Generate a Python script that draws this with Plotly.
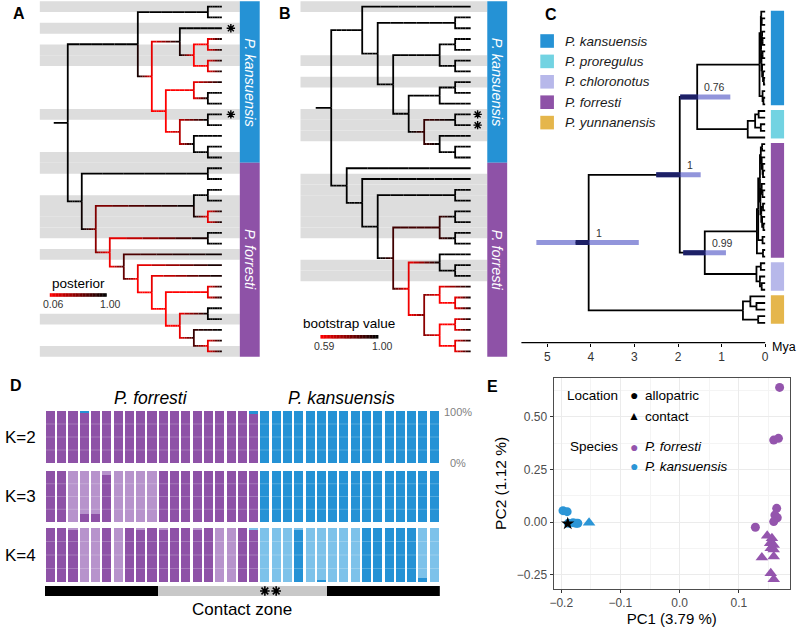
import plotly.graph_objects as go

W, H = 800, 634
FONT = "Liberation Sans, Arial, Helvetica, sans-serif"
T = None  # a tip in the cladograms of panels A and B

# ======================= DATA =======================
# ---- Panel A: Bayesian tree, node = [posterior, child, child], tips top->bottom
A_k_sub1 = [1.00, T, [0.06, [0.06, T, T], [0.06, T, T]]]
A_k_sub2 = [0.06, [0.10, T, [1.00, T, T]], [0.30, [1.00, T, T], [1.00, T, [1.00, T, T]]]]
A_kansuensis = [1.00, [1.00, T, T], [0.06, A_k_sub1, A_k_sub2]]
A_f_deep = [0.06, [0.06, T, T], [0.10, [1.00, T, T], [0.80, T, [0.06, T, T]]]]
A_f_ladder = [0.70, T, [0.06, T, [0.06, T, A_f_deep]]]
A_forresti = [1.00, [1.00, T, T],
              [0.50, [1.00, [1.00, T, T], [0.06, T, T]], [0.06, [1.00, T, T], A_f_ladder]]]
tree_A = [1.00, A_kansuensis, A_forresti]
bands_A = [0, 2, 4, 5, 10, 14, 15, 18, 19, 20, 21, 23, 29, 32]
stars_A = [2, 10]
posterior_range = [0.06, 1.00]

# ---- Panel B: ML tree, node = [bootstrap, child, child]
B_k_sub = [1.00, [1.00, [1.00, T, T], T], [0.90, [1.00, T, T], [1.00, T, [1.00, T, T]]]]
B_kansuensis = [1.00, T, [1.00, [1.00, T, T], [1.00, [1.00, [1.00, T, T], [1.00, T, T]], B_k_sub]]]
B_f_sub = [0.59, [1.00, T, [1.00, T, T]],
           [0.80, [0.59, T, [0.59, T, T]], [0.59, [0.59, T, T], [0.59, T, T]]]]
B_forresti = [1.00, T, [1.00, T, [1.00, [1.00, T, T],
                                    [0.90, [0.90, [1.00, T, T], [1.00, T, T]], B_f_sub]]]]
tree_B = [1.00, B_kansuensis, B_forresti]
bands_B = [0, 5, 7, 10, 11, 12, 16, 17, 18, 19, 20, 21, 24, 25]
stars_B = [10, 11]
bootstrap_range = [0.59, 1.00]

n_kans_tree = 15
n_forr_tree = 18

# ---- Panel C: dated species tree, node = [age (Mya), child, child], "t" = tip
C_kans = [0.13, [0.10, [0.09, "t", [0.08, "t", "t"]],
                 [0.095, [0.07, "t", [0.06, "t", "t"]],
                  [0.085, [0.06, "t", "t"], [0.07, "t", [0.05, "t", [0.03, "t", "t"]]]]]],
          [0.06, "t", [0.04, "t", "t"]]]
C_pror = [0.40, [0.23, [0.15, "t", "t"], [0.10, "t", "t"]], "t"]
C_f_a1 = [0.10, [0.07, "t", "t"], [0.08, "t", [0.06, "t", [0.05, "t", "t"]]]]
C_f_a2 = [0.11, [0.08, "t", [0.06, "t", "t"]], [0.09, [0.05, "t", "t"], [0.07, "t", [0.04, "t", "t"]]]]
C_forr = [0.19, [0.16, [0.12, C_f_a1, C_f_a2], [0.06, "t", "t"]], [0.05, "t", "t"]]
C_chlo = [0.20, [0.10, "t", "t"], [0.12, "t", [0.08, "t", "t"]]]
C_yunn = [0.51, [0.34, "t", [0.20, "t", "t"]], [0.16, "t", "t"]]
tree_C = [4.05, [1.96, [1.56, C_kans, C_pror], [1.386, C_forr, C_chlo]], C_yunn]
root_edge = 0.30
hpd_node_age = [4.05, 1.96, 1.56, 1.386]
hpd_low = [2.90, 1.48, 0.80, 0.90]
hpd_high = [5.25, 2.50, 1.95, 1.88]
hpd_posterior = ["1", "1", "0.76", "0.99"]
mya_ticks = [5, 4, 3, 2, 1, 0]
legend_species = ["P. kansuensis", "P. proregulus", "P. chloronotus", "P. forresti", "P. yunnanensis"]
legend_colors = ["#2592D5", "#72D3E2", "#B7B8EA", "#8E52A7", "#E5B64B"]
clades_top_to_bottom = [C_kans, C_pror, C_forr, C_chlo, C_yunn]
clade_colors = ["#2592D5", "#72D3E2", "#8E52A7", "#B7B8EA", "#E5B64B"]

# ---- Panel D: admixture proportions for 35 individuals (19 P. forresti, 16 P. kansuensis)
K2_purple = [1.00, 1.00, 1.00, 0.97, 1.00, 1.00, 1.00, 1.00, 1.00, 1.00, 1.00, 1.00, 1.00, 1.00, 1.00, 1.00,
             1.00, 1.00, 0.95, 0.00, 0.00, 0.00, 0.00, 0.00, 0.00, 0.00, 0.00, 0.00, 0.00, 0.00, 0.00, 0.00,
             0.00, 0.00, 0.00]
K2_blue = [0.00, 0.00, 0.00, 0.03, 0.00, 0.00, 0.00, 0.00, 0.00, 0.00, 0.00, 0.00, 0.00, 0.00, 0.00, 0.00,
           0.00, 0.00, 0.05, 1.00, 1.00, 1.00, 1.00, 1.00, 1.00, 1.00, 1.00, 1.00, 1.00, 1.00, 1.00, 1.00,
           1.00, 1.00, 1.00]
K3_dpurple = [1.00, 1.00, 0.00, 0.16, 0.16, 0.92, 0.00, 0.00, 0.00, 0.00, 1.00, 1.00, 1.00, 1.00, 1.00, 1.00,
              1.00, 1.00, 1.00, 0.00, 0.00, 0.00, 0.00, 0.00, 0.00, 0.00, 0.00, 0.00, 0.00, 0.00, 0.00, 0.00,
              0.00, 0.00, 0.00]
K3_lpurple = [0.00, 0.00, 1.00, 0.84, 0.84, 0.08, 1.00, 1.00, 1.00, 1.00, 0.00, 0.00, 0.00, 0.00, 0.00, 0.00,
              0.00, 0.00, 0.00, 0.00, 0.00, 0.00, 0.00, 0.00, 0.00, 0.00, 0.00, 0.00, 0.00, 0.00, 0.00, 0.00,
              0.00, 0.00, 0.00]
K3_blue = [0.00, 0.00, 0.00, 0.00, 0.00, 0.00, 0.00, 0.00, 0.00, 0.00, 0.00, 0.00, 0.00, 0.00, 0.00, 0.00,
           0.00, 0.00, 0.00, 1.00, 1.00, 1.00, 1.00, 1.00, 1.00, 1.00, 1.00, 1.00, 1.00, 1.00, 1.00, 1.00,
           1.00, 1.00, 1.00]
K4_dpurple = [1.00, 1.00, 0.96, 0.00, 0.00, 1.00, 0.00, 1.00, 0.96, 1.00, 0.97, 1.00, 1.00, 0.96, 1.00, 0.00,
              0.00, 1.00, 0.96, 0.00, 0.00, 0.00, 0.00, 0.00, 0.00, 0.00, 0.00, 0.00, 0.00, 0.00, 0.00, 0.00,
              0.00, 0.00, 0.00]
K4_lpurple = [0.00, 0.00, 0.04, 1.00, 1.00, 0.00, 1.00, 0.00, 0.04, 0.00, 0.03, 0.00, 0.00, 0.04, 0.00, 1.00,
              1.00, 0.00, 0.00, 0.00, 0.00, 0.00, 0.00, 0.00, 0.00, 0.00, 0.00, 0.00, 0.00, 0.00, 0.00, 0.00,
              0.00, 0.00, 0.00]
K4_dblue = [0.00, 0.00, 0.00, 0.00, 0.00, 0.00, 0.00, 0.00, 0.00, 0.00, 0.00, 0.00, 0.00, 0.00, 0.00, 0.00,
            0.00, 0.00, 0.00, 0.00, 0.00, 0.00, 0.97, 0.00, 0.03, 0.00, 0.00, 0.00, 1.00, 1.00, 1.00, 1.00,
            1.00, 0.07, 0.00]
K4_lblue = [0.00, 0.00, 0.00, 0.00, 0.00, 0.00, 0.00, 0.00, 0.00, 0.00, 0.00, 0.00, 0.00, 0.00, 0.00, 0.00,
            0.00, 0.00, 0.04, 1.00, 1.00, 1.00, 0.03, 1.00, 0.97, 1.00, 1.00, 1.00, 0.00, 0.00, 0.00, 0.00,
            0.00, 0.93, 1.00]
contact_zone = [0, 0, 0, 0, 0, 0, 0, 0, 0, 0, 1, 1, 1, 1, 1, 1, 1, 1, 1, 1, 1, 1, 1, 1, 1,
                0, 0, 0, 0, 0, 0, 0, 0, 0, 0]
starred_individuals = [19, 20]
k_labels = ["K=2", "K=3", "K=4"]

# ---- Panel E: PCA
pc1_forr_allo = [0.169, 0.159, 0.167, 0.164, 0.161, 0.165, 0.159, 0.128]
pc2_forr_allo = [0.639, 0.389, 0.397, 0.065, 0.033, 0.020, 0.002, -0.025]
pc1_forr_cont = [0.148, 0.156, 0.153, 0.159, 0.154, 0.159, 0.139, 0.159, 0.154, 0.159]
pc2_forr_cont = [-0.065, -0.077, -0.101, -0.109, -0.125, -0.130, -0.169, -0.164, -0.243, -0.272]
pc1_kans_allo = [-0.197, -0.190, -0.188, -0.180, -0.175, -0.172]
pc2_kans_allo = [0.054, 0.049, -0.006, -0.003, -0.006, -0.006]
pc1_kans_cont = [-0.153]
pc2_kans_cont = [-0.003]
pc1_star = [-0.189]
pc2_star = [-0.008]

# ======================= STYLE =======================
PURPLE = "#8E52A7"
LPURPLE = "#B793CC"
BLUE = "#2592D5"
LBLUE = "#7DC2EA"
GREY_BAND = "#DDDDDD"

fig = go.Figure()
shapes, anns = [], []


def fx(p):
    return p / W


def fy(p):
    return 1 - p / H


def dom_x(a, b):
    return [a / W, b / W]


def dom_y(top, bottom):
    return [1 - bottom / H, 1 - top / H]


def text(s, x, y, size, color="#000000", xa="center", ya="middle", xref="paper", yref="paper",
         angle=0, yshift=0):
    anns.append(dict(text=s, x=fx(x) if xref == "paper" else x, y=fy(y) if yref == "paper" else y,
                     xref=xref, yref=yref, xanchor=xa, yanchor=ya, showarrow=False, textangle=angle,
                     yshift=yshift, font=dict(size=size, color=color, family=FONT)))


def rect(x0, x1, y0, y1, color, xref="paper", yref="paper", layer="below"):
    shapes.append(dict(type="rect", xref=xref, yref=yref,
                       x0=fx(x0) if xref == "paper" else x0, x1=fx(x1) if xref == "paper" else x1,
                       y0=fy(y0) if yref == "paper" else y0, y1=fy(y1) if yref == "paper" else y1,
                       fillcolor=color, line=dict(width=0), layer=layer))


def grad(t):
    return "rgb(%d,0,0)" % int(round(255 * (1 - t)))


def draw_cladogram(tree, xa, ya, vmin, vmax):
    tips = []

    def build(node):
        if node is None:
            d = dict(y=float(len(tips)), h=0, v=vmax, kids=[])
            tips.append(d)
            return d
        kids = [build(c) for c in node[1:]]
        return dict(y=sum(k["y"] for k in kids) / len(kids), h=1 + max(k["h"] for k in kids),
                    v=node[0], kids=kids)

    root = build(tree)
    top = root["h"] + 1

    def setx(n):
        n["x"] = top - n["h"]
        for k in n["kids"]:
            setx(k)

    setx(root)
    groups = {}

    def put(pts, v):
        t = max(0.0, min(1.0, (v - vmin) / (vmax - vmin)))
        q = round(t * 20) / 20
        xs, ys = groups.setdefault(q, ([], []))
        for x, y in pts:
            xs.append(x)
            ys.append(y)
        xs.append(None)
        ys.append(None)

    NS = 6

    def walk(n):
        for k in n["kids"]:
            dx = (k["x"] - n["x"]) / NS
            dv = k["v"] - n["v"]
            put([(n["x"], n["y"]), (n["x"], k["y"]), (n["x"] + dx, k["y"])], n["v"] + dv * 0.5 / NS)
            for i in range(1, NS):
                put([(n["x"] + dx * i, k["y"]), (n["x"] + dx * (i + 1), k["y"])], n["v"] + dv * (i + 0.5) / NS)
            walk(k)

    walk(root)
    put([(root["x"] - 1, root["y"]), (root["x"], root["y"])], root["v"])
    for q in sorted(groups):
        xs, ys = groups[q]
        fig.add_trace(go.Scatter(x=xs, y=ys, mode="lines", line=dict(color=grad(q), width=1.8),
                                 xaxis=xa, yaxis=ya, hoverinfo="skip", showlegend=False))
    return len(tips)


def tree_panel(tree, xa, ya, yref, vmin, vmax, band_px, bar_px, bands):
    for k in bands:
        rect(band_px[0], band_px[1], k - 0.5, k + 0.5, GREY_BAND, yref=yref)
    draw_cladogram(tree, xa, ya, vmin, vmax)
    nk, nf = n_kans_tree, n_forr_tree
    rect(bar_px[0], bar_px[1], -0.5, nk - 0.5, BLUE, yref=yref, layer="above")
    rect(bar_px[0], bar_px[1], nk - 0.5, nk + nf - 0.5, PURPLE, yref=yref, layer="above")
    xc = (bar_px[0] + bar_px[1]) / 2
    text("<i>P. kansuensis</i>", xc, (nk - 1) / 2, 14.5, "white", yref=yref, angle=90)
    text("<i>P. forresti</i>", xc, nk + (nf - 1) / 2, 14.5, "white", yref=yref, angle=90)


def grad_legend(title, x0, x1, ybar, lo, hi, title_y, lab_y):
    n = 40
    for i in range(n):
        a = x0 + (x1 - x0) * i / n
        b = x0 + (x1 - x0) * (i + 1) / n + 0.3
        rect(a, b, ybar - 1.8, ybar + 1.8, grad(i / (n - 1)), layer="above")
    text(title, (x0 + x1) / 2, title_y, 13.5)
    text("%.2f" % lo, x0 + 4, lab_y, 10.5, "#333333")
    text("%.2f" % hi, x1 + 4, lab_y, 10.5, "#333333")


def star_markers(tips_idx, x_level, xa, ya):
    fig.add_trace(go.Scatter(x=[x_level for _ in tips_idx], y=tips_idx, mode="markers",
                             marker=dict(symbol="asterisk-open", size=7, color="black",
                                         line=dict(width=1.4, color="black")),
                             xaxis=xa, yaxis=ya, cliponaxis=False, hoverinfo="skip", showlegend=False))


# ---------------- Panel A ----------------
tree_panel(tree_A, "x", "y", "y", posterior_range[0], posterior_range[1], (36, 237), (237, 257), bands_A)
star_markers(stars_A, (228 - 50) / 14.08, "x", "y")
grad_legend("posterior", 46, 103, 295, posterior_range[0], posterior_range[1], 283, 304)

# ---------------- Panel B ----------------
tree_panel(tree_B, "x2", "y2", "y2", bootstrap_range[0], bootstrap_range[1], (298, 485.7), (485.7, 505.7),
           bands_B)
star_markers(stars_B, (476 - 313.3) / 15.57, "x2", "y2")
grad_legend("bootstrap value", 318, 376, 336.8, bootstrap_range[0], bootstrap_range[1], 323, 345.5)

# ---------------- Panel C ----------------
def ntips(node):
    return 1 if node == "t" else sum(ntips(c) for c in node[1:])


tipsC = []
node_y, node_parent = {}, {}


def buildC(node, parent_age):
    if node == "t":
        d = dict(age=0.0, y=float(len(tipsC)), kids=[])
        tipsC.append(d)
        return d
    kids = [buildC(c, node[0]) for c in node[1:]]
    d = dict(age=node[0], y=sum(k["y"] for k in kids) / len(kids), kids=kids)
    node_y[node[0]] = d["y"]
    node_parent[node[0]] = parent_age
    return d


rootC = buildC(tree_C, tree_C[0] + root_edge)
xs, ys = [rootC["age"] + root_edge, rootC["age"], None], [rootC["y"], rootC["y"], None]


def walkC(n):
    for k in n["kids"]:
        xs.extend([n["age"], n["age"], k["age"], None])
        ys.extend([n["y"], k["y"], k["y"], None])
        walkC(k)


walkC(rootC)
fig.add_trace(go.Scatter(x=xs, y=ys, mode="lines", line=dict(color="black", width=1.8),
                         xaxis="x3", yaxis="y3", hoverinfo="skip", showlegend=False))
for i, age in enumerate(hpd_node_age):
    yv = node_y[age]
    fig.add_trace(go.Scatter(x=[hpd_low[i], hpd_high[i]], y=[yv, yv], mode="lines",
                             line=dict(color="rgba(54,59,189,0.54)", width=5),
                             xaxis="x3", yaxis="y3", hoverinfo="skip", showlegend=False))
    fig.add_trace(go.Scatter(x=[age, min(hpd_high[i], node_parent[age])], y=[yv, yv], mode="lines",
                             line=dict(color="rgb(29,32,102)", width=5),
                             xaxis="x3", yaxis="y3", hoverinfo="skip", showlegend=False))
    text(hpd_posterior[i], age - 0.12, yv, 10.5, "#333333", xa="left", xref="x3", yref="y3", yshift=10)

start = 0
for clade, col in zip(clades_top_to_bottom, clade_colors):
    n = ntips(clade)
    rect(770.7, 784, start - 0.15, start + n - 1 + 0.15, col, yref="y3", layer="above")
    start += n

shapes.append(dict(type="line", xref="paper", yref="paper", x0=fx(520), x1=fx(765), y0=fy(342.7), y1=fy(342.7),
                   line=dict(color="black", width=1.2)))
text("Mya", 798, 347, 12.5, xa="right")
for i, (name, col) in enumerate(zip(legend_species, legend_colors)):
    yc = 41 + 20.4 * i
    rect(539, 552.7, yc - 6.8, yc + 6.8, col, layer="above")
    text("<i>%s</i>" % name, 561.7, yc, 13.5, "#1A1A1A", xa="left")

# ---------------- Panel D ----------------
ind = list(range(len(K2_purple)))
rows = [("x4", "y4", [(K2_purple, PURPLE), (K2_blue, BLUE)]),
        ("x5", "y5", [(K3_dpurple, PURPLE), (K3_lpurple, LPURPLE), (K3_blue, BLUE)]),
        ("x6", "y6", [(K4_dpurple, PURPLE), (K4_lpurple, LPURPLE), (K4_dblue, BLUE), (K4_lblue, LBLUE)])]
for xa, ya, comps in rows:
    for vals, col in comps:
        fig.add_trace(go.Bar(x=ind, y=vals, marker=dict(color=col, line=dict(width=0)),
                             xaxis=xa, yaxis=ya, hoverinfo="skip", showlegend=False))
    for g in (0.25, 0.5, 0.75):
        shapes.append(dict(type="line", xref="paper", yref=ya, x0=fx(41), x1=fx(438), y0=g, y1=g,
                           line=dict(color="rgba(255,255,255,0.22)", width=1), layer="above"))
fig.add_trace(go.Bar(x=ind, y=[1 for _ in ind], width=1.0,
                     marker=dict(color=["#C8C8C8" if c else "#000000" for c in contact_zone], line=dict(width=0)),
                     xaxis="x7", yaxis="y7", hoverinfo="skip", showlegend=False))
fig.add_trace(go.Scatter(x=starred_individuals, y=[0.5 for _ in starred_individuals], mode="markers",
                         marker=dict(symbol="asterisk-open", size=8, color="black", line=dict(width=1.6, color="black")),
                         xaxis="x7", yaxis="y7", cliponaxis=False, hoverinfo="skip", showlegend=False))
text("Contact zone", 239, 609, 17)
text("<i>P. forresti</i>", 147.5, 398, 17.5)
text("<i>P. kansuensis</i>", 339, 398, 17.5)
for lab, yc in zip(k_labels, [437, 496.5, 555]):
    text(lab, 17, yc, 17)
text("100%", 456.5, 411.7, 11, "#7F7F7F")
text("0%", 456.5, 462.7, 11, "#7F7F7F")

# ---------------- Panel E ----------------
EP = "#9455AD"
EB = "#2B95D6"
for xv, yv, col, sym, sz in [(pc1_forr_allo, pc2_forr_allo, EP, "circle", 9),
                             (pc1_forr_cont, pc2_forr_cont, EP, "triangle-up", 11),
                             (pc1_kans_allo, pc2_kans_allo, EB, "circle", 9),
                             (pc1_kans_cont, pc2_kans_cont, EB, "triangle-up", 11),
                             (pc1_star, pc2_star, "#000000", "star", 10)]:
    fig.add_trace(go.Scatter(x=xv, y=yv, mode="markers",
                             marker=dict(color=col, symbol=sym, size=sz, line=dict(width=0)),
                             xaxis="x8", yaxis="y8", hoverinfo="skip", showlegend=False))
text("Location", 619, 395, 13.5, xa="right")
text("●", 632.7, 395, 14)
text("allopatric", 642.7, 395, 13.5, xa="left")
text("▲", 632.7, 416, 12)
text("contact", 642.7, 416, 13.5, xa="left")
text("Species", 619, 446.7, 13.5, xa="right")
text("●", 632.7, 446.7, 14, EP)
text("<i>P. forresti</i>", 642.7, 446.7, 13.5, xa="left")
text("●", 632.7, 466, 14, EB)
text("<i>P. kansuensis</i>", 642.7, 466, 13.5, xa="left")

# ---------------- panel letters ----------------
for lab, x, y in [("A", 15.3, 13.7), ("B", 282, 13.7), ("C", 550, 15), ("D", 12, 385), ("E", 491, 386)]:
    text("<b>%s</b>" % lab, x, y, 16)

hidden = dict(visible=False, showgrid=False, zeroline=False)
fig.update_layout(
    width=W, height=H, margin=dict(l=0, r=0, t=0, b=0),
    paper_bgcolor="white", plot_bgcolor="white",
    font=dict(family=FONT, color="black"),
    barmode="stack", bargap=0.2,
    xaxis=dict(domain=dom_x(30, 262), range=[(30 - 50) / 14.08, (262 - 50) / 14.08], anchor="y", **hidden),
    yaxis=dict(domain=dom_y(0, 362), range=[(362 - 6.7) / 10.77, -6.7 / 10.77], anchor="x", **hidden),
    xaxis2=dict(domain=dom_x(290, 512), range=[(290 - 313.3) / 15.57, (512 - 313.3) / 15.57], anchor="y2", **hidden),
    yaxis2=dict(domain=dom_y(0, 362), range=[(362 - 6.7) / 10.77, -6.7 / 10.77], anchor="x2", **hidden),
    xaxis3=dict(domain=dom_x(520, 792), range=[(765 - 520) / 43.8, (765 - 792) / 43.8], anchor="y3",
                showgrid=False, zeroline=False, showline=False, tickvals=mya_ticks, ticks="outside",
                ticklen=3, tickwidth=1.3, tickcolor="black", tickfont=dict(size=12, color="#333333")),
    yaxis3=dict(domain=dom_y(0, 342.7), range=[(342.7 - 11.7) / 6.62, -11.7 / 6.62], anchor="x3", **hidden),
    xaxis4=dict(domain=dom_x(41, 438), range=[-0.5, 34.5], anchor="y4", **hidden),
    yaxis4=dict(domain=dom_y(411, 463), range=[0, 1], anchor="x4", **hidden),
    xaxis5=dict(domain=dom_x(41, 438), range=[-0.5, 34.5], anchor="y5", **hidden),
    yaxis5=dict(domain=dom_y(471, 522), range=[0, 1], anchor="x5", **hidden),
    xaxis6=dict(domain=dom_x(41, 438), range=[-0.5, 34.5], anchor="y6", **hidden),
    yaxis6=dict(domain=dom_y(528, 582), range=[0, 1], anchor="x6", **hidden),
    xaxis7=dict(domain=dom_x(41, 438), range=[-0.5, 34.5], anchor="y7", **hidden),
    yaxis7=dict(domain=dom_y(586, 596), range=[0, 1], anchor="x7", **hidden),
    xaxis8=dict(domain=dom_x(552.3, 790), range=[-0.213, 0.1866], anchor="y8",
                tickvals=[-0.2, -0.1, 0.0, 0.1], tickformat=".1f", showline=True, mirror=True,
                linecolor="#4D4D4D", linewidth=1, showgrid=True, gridcolor="#EBEBEB", gridwidth=1,
                zeroline=False, ticks="outside", ticklen=3, tickcolor="#333333",
                tickfont=dict(size=12, color="#4D4D4D"),
                minor=dict(tickvals=[-0.15, -0.05, 0.05, 0.15], showgrid=True, gridcolor="#F4F4F4",
                           gridwidth=0.7, ticks=""),
                title=dict(text="PC1 (3.79 %)", font=dict(size=15, color="black"), standoff=0)),
    yaxis8=dict(domain=dom_y(377.7, 589), range=[-0.318, 0.685], anchor="x8",
                tickvals=[-0.25, 0.0, 0.25, 0.5], tickformat=".2f", showline=True, mirror=True,
                linecolor="#4D4D4D", linewidth=1, showgrid=True, gridcolor="#EBEBEB", gridwidth=1,
                zeroline=False, ticks="outside", ticklen=3, tickcolor="#333333",
                tickfont=dict(size=12, color="#4D4D4D"),
                minor=dict(tickvals=[-0.125, 0.125, 0.375, 0.625], showgrid=True, gridcolor="#F4F4F4",
                           gridwidth=0.7, ticks=""),
                title=dict(text="PC2 (1.12 %)", font=dict(size=15.5, color="black"), standoff=6)),
    shapes=shapes, annotations=anns,
)
fig.write_html("out.html", config={"displayModeBar": False},
               post_script="document.body.style.margin='0px';document.body.style.overflow='hidden';")
